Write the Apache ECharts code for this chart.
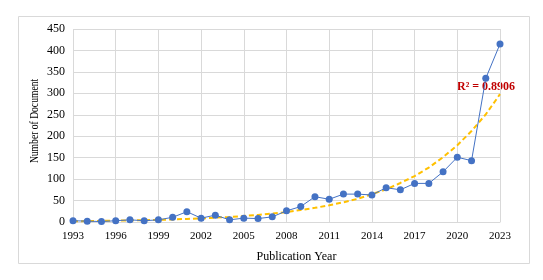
<!DOCTYPE html>
<html><head><meta charset="utf-8">
<script src="https://cdn.jsdelivr.net/npm/echarts@6/dist/echarts.min.js"></script>
<style>html,body{margin:0;padding:0;background:#fff}#c{width:543px;height:280px}</style>
</head><body><div id="c"></div>
<script>
const years = ['1993','1994','1995','1996','1997','1998','1999','2000','2001','2002','2003','2004','2005','2006','2007','2008','2009','2010','2011','2012','2013','2014','2015','2016','2017','2018','2019','2020','2021','2022','2023'];
const documents = [3,2,1,3,5,3,5,11,24,9,16,5,9,8,12,26,36,59,53,65,65,63,80,75,90,90,117,151,143,335,415];
const trend = [1.8,2.2,2.6,3,3.6,4.3,5,6,7.1,8.4,10,11.8,14,16.6,20,23,28,33,39,46,54,65,76,91,107,127,151,179,212,251,298];
const yTicks = {min:0, max:450, interval:50};
const r2Label = 'R² = 0.8906';
const yTitle = 'Number of Document';
const xTitle = 'Publication Year';

const chart = echarts.init(document.getElementById('c'), null, {renderer:'canvas'});
const serif = '"Liberation Serif","Times New Roman",serif';
chart.setOption({
  animation:false,
  backgroundColor:'#fff',
  graphic:[
    {type:'rect', shape:{x:18.5,y:16.5,width:511,height:247}, style:{fill:'none', stroke:'#d9d9d9', lineWidth:1}, z:-10},
    {type:'text', left:457, top:81, style:{text:r2Label, fill:'#c00000', font:'bold 12px ' + serif}},
    {type:'text', x:35, y:121, rotation:Math.PI/2, scaleX:0.8,
      style:{text:yTitle, fill:'#000', font:'12px ' + serif, align:'center', verticalAlign:'middle'}}
  ],
  grid:{left:73, right:43, top:29, bottom:58},
  xAxis:{type:'category', data:years, boundaryGap:false,
    name:xTitle, nameLocation:'middle', nameGap:29,
    nameTextStyle:{fontFamily:serif, fontSize:12, color:'#000', padding:[0,0,0,20]},
    axisLine:{lineStyle:{color:'#d9d9d9'}}, axisTick:{show:false},
    axisLabel:{interval:2, fontFamily:serif, fontSize:11, color:'#000', margin:9},
    splitLine:{show:true, interval:2, lineStyle:{color:'#d9d9d9'}}},
  yAxis:{type:'value', min:yTicks.min, max:yTicks.max, interval:yTicks.interval,
    axisLine:{show:false}, axisTick:{show:false},
    axisLabel:{fontFamily:serif, fontSize:12, color:'#000', margin:8},
    splitLine:{lineStyle:{color:'#d9d9d9'}}},
  series:[
    {type:'line', data:trend, symbol:'none', z:3, lineStyle:{color:'#FFC000', width:2, type:[5,3]}},
    {type:'line', data:documents, symbol:'circle', symbolSize:7, z:4,
      itemStyle:{color:'#4472C4'}, lineStyle:{color:'#4472C4', width:1}}
  ]
});
</script></body></html>
